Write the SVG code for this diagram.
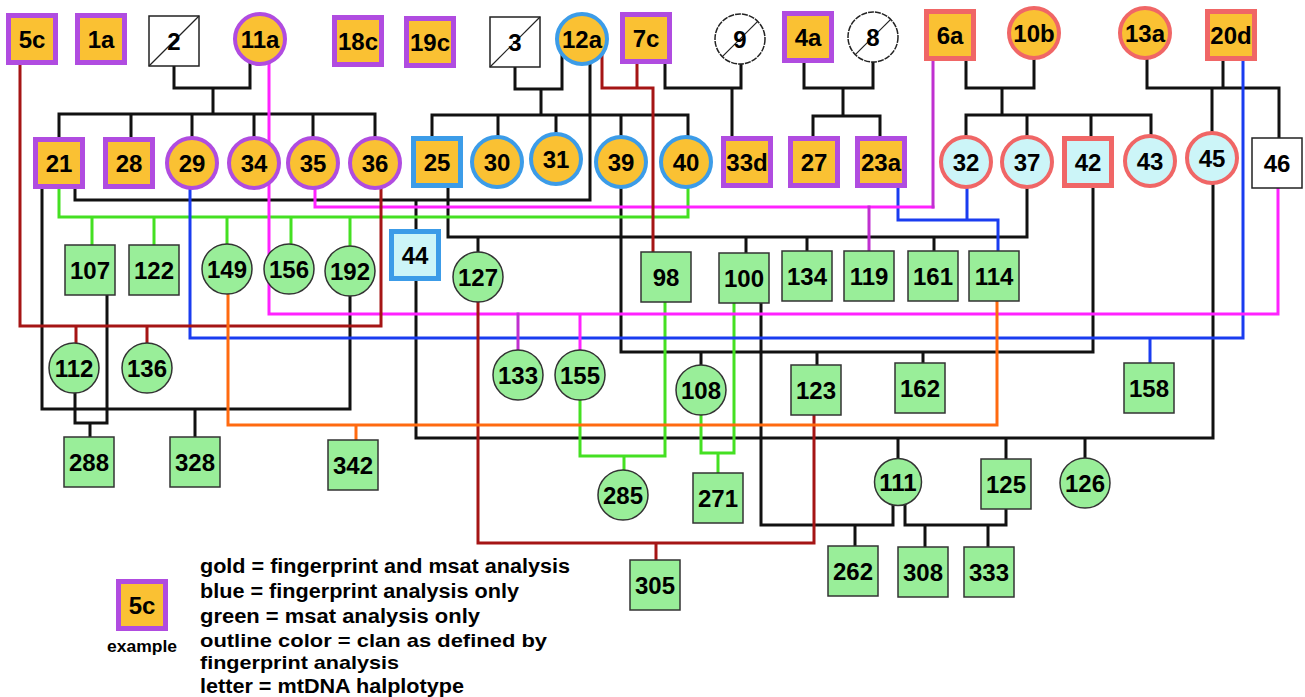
<svg xmlns="http://www.w3.org/2000/svg" width="1305" height="697" viewBox="0 0 1305 697">
<style>
.bg{fill:#ffffff}
.c{fill:none;stroke-width:3;stroke-linejoin:miter;stroke-linecap:square}
.k{stroke:#111111}
.g{stroke:#44e022}
.b{stroke:#1a3cf0}
.m{stroke:#ff22ff}
.mp{stroke:#c030d0}
.r{stroke:#a51515}
.o{stroke:#ff6a10}
.gold{fill:#fac133}
.cy{fill:#ccf5f8}
.wh{fill:#ffffff;stroke:#222222;stroke-width:1.5}
.gr{fill:#99ee99;stroke:#333333;stroke-width:1.5}
.pur{stroke:#b04ce0;stroke-width:5}
.blu{stroke:#3c9ce8;stroke-width:5}
.sal{stroke:#f06666;stroke-width:5}
.pc{stroke:#b04ce0;stroke-width:4}
.bc{stroke:#3c9ce8;stroke-width:4}
.sc{stroke:#f06666;stroke-width:4}
.dg{stroke:#222222;stroke-width:1.2;fill:none}
text{font-family:"Liberation Sans",Arial,sans-serif;font-weight:bold;fill:#000000}
.t{font-size:24px;text-anchor:middle}
.lg{font-size:20px}
.lg2{font-size:19px}
.ex{font-size:16px;text-anchor:middle}
</style>
<rect class="bg" x="0" y="0" width="1305" height="697"/>
<g id="connectors">
<path class="c k" d="M174 41 V88 H250 V39 M213 88 V114 M59 114 H375 M59 114 V140 M131 114 V140 M192 114 V140 M254 114 V140 M313 114 V140 M375 114 V140"/>
<path class="c k" d="M515 42 V89 H562 V39 M541 89 V115 M432 115 H688 M432 115 V140 M498 115 V140 M556 115 V140 M621 115 V140 M688 115 V140"/>
<path class="c k" d="M665 38 V88 H741 V39 M732 88 V140"/>
<path class="c k" d="M804 37 V88 H873 V37 M843 88 V116 M813 116 H880 M813 116 V140 M880 116 V140"/>
<path class="c k" d="M966 35 V88 H1034 V33 M1002 88 V115 M966 115 H1151 M966 115 V140 M1027 115 V140 M1091 115 V140 M1151 115 V140"/>
<path class="c k" d="M1147 33 V88 H1279 V163 M1223 35 V88 M1212 88 V158"/>
<path class="c k" d="M75 163 V200 H590 V39 M416 200 V255"/>
<path class="c k" d="M448 162 V237 H1027 V162 M478 237 V277 M746 237 V278 M807 237 V276 M934 237 V276"/>
<path class="c k" d="M621 162 V352 H1093 V162 M701 352 V390 M817 352 V390 M923 352 V388"/>
<path class="c k" d="M42 163 V409 H350 V271 M195 409 V462"/>
<path class="c k" d="M75 368 V423 H107 V270 M90 423 V462"/>
<path class="c k" d="M416 255 V438 H1213 V158 M898 438 V482 M1006 438 V484 M1085 438 V483"/>
<path class="c k" d="M761 278 V525 H893 V482 M855 525 V571"/>
<path class="c k" d="M905 482 V525 H1006 V484 M925 525 V572 M988 525 V572"/>
<path class="c g" d="M59 163 V217 H688 V162 M92 217 V270 M154 217 V270 M227 217 V269 M291 217 V269 M350 217 V271"/>
<path class="c g" d="M580 375 V456 H665 V277 M624 456 V495"/>
<path class="c g" d="M701 390 V453 H734 V278 M718 453 V498"/>
<path class="c b" d="M190 163 V338 H1243 V35 M1150 338 V388"/>
<path class="c b" d="M898 162 V220 H998 V276 M967 162 V220"/>
<path class="c m" d="M269 39 V314 H1278 V163 M580 314 V375"/>
<path class="c mp" d="M518 314 V375"/>
<path class="c m" d="M315 163 V207 H933"/>
<path class="c mp" d="M933 207 V35 M869 207 V276"/>
<path class="c r" d="M20 39 V326 H381 V163 M76 326 V368 M147 326 V368"/>
<path class="c r" d="M602 39 V88 H653 V277 M637 38 V88"/>
<path class="c r" d="M478 277 V543 H814 V390 M656 543 V585"/>
<path class="c o" d="M228 269 V425 H997 V276 M356 425 V465"/>
</g>
<g id="n5c"><rect class="gold pur" x="8.5" y="15.5" width="47" height="47"/><text class="t" x="32" y="47.5">5c</text></g>
<g id="n1a"><rect class="gold pur" x="77.5" y="15.5" width="47" height="47"/><text class="t" x="101" y="47.5">1a</text></g>
<g id="n2"><rect class="wh" x="149" y="16" width="50" height="50"/><path class="dg" d="M149 66 L199 16"/><text class="t" x="174" y="49.5">2</text></g>
<g id="n11a"><circle class="gold pc" cx="260" cy="39" r="25"/><text class="t" x="260" y="47.5">11a</text></g>
<g id="n18c"><rect class="gold pur" x="334.5" y="17.5" width="47" height="47"/><text class="t" x="358" y="49.5">18c</text></g>
<g id="n19c"><rect class="gold pur" x="406.5" y="18.5" width="47" height="47"/><text class="t" x="430" y="50.5">19c</text></g>
<g id="n3"><rect class="wh" x="490" y="17" width="50" height="50"/><path class="dg" d="M490 67 L540 17"/><text class="t" x="515" y="50.5">3</text></g>
<g id="n12a"><circle class="gold bc" cx="582" cy="39" r="25"/><text class="t" x="582" y="47.5">12a</text></g>
<g id="n7c"><rect class="gold pur" x="622.5" y="14.5" width="47" height="47"/><text class="t" x="646" y="46.5">7c</text></g>
<g id="n9"><circle class="wh" cx="740" cy="39" r="25" stroke-dasharray="6 1"/><path class="dg" d="M722.3 56.7 L757.7 21.3"/><text class="t" x="740" y="47.5">9</text></g>
<g id="n4a"><rect class="gold pur" x="784.5" y="13.5" width="47" height="47"/><text class="t" x="808" y="45.5">4a</text></g>
<g id="n8"><circle class="wh" cx="873" cy="37" r="25" stroke-dasharray="6 1"/><path class="dg" d="M855.3 54.7 L890.7 19.3"/><text class="t" x="873" y="45.5">8</text></g>
<g id="n6a"><rect class="gold sal" x="926.5" y="11.5" width="47" height="47"/><text class="t" x="950" y="43.5">6a</text></g>
<g id="n10b"><circle class="gold sc" cx="1034" cy="33" r="25"/><text class="t" x="1034" y="41.5">10b</text></g>
<g id="n13a"><circle class="gold sc" cx="1145" cy="33" r="25"/><text class="t" x="1145" y="41.5">13a</text></g>
<g id="n20d"><rect class="gold sal" x="1207.5" y="11.5" width="47" height="47"/><text class="t" x="1231" y="43.5">20d</text></g>

<g id="n21"><rect class="gold pur" x="35.5" y="139.5" width="47" height="47"/><text class="t" x="59" y="171.5">21</text></g>
<g id="n28"><rect class="gold pur" x="105.5" y="139.5" width="47" height="47"/><text class="t" x="129" y="171.5">28</text></g>
<g id="n29"><circle class="gold pc" cx="192" cy="163" r="25"/><text class="t" x="192" y="171.5">29</text></g>
<g id="n34"><circle class="gold pc" cx="254" cy="163" r="25"/><text class="t" x="254" y="171.5">34</text></g>
<g id="n35"><circle class="gold pc" cx="313" cy="163" r="25"/><text class="t" x="313" y="171.5">35</text></g>
<g id="n36"><circle class="gold pc" cx="375" cy="163" r="25"/><text class="t" x="375" y="171.5">36</text></g>
<g id="n25"><rect class="gold blu" x="413.5" y="138.5" width="47" height="47"/><text class="t" x="437" y="170.5">25</text></g>
<g id="n30"><circle class="gold bc" cx="497" cy="162" r="25"/><text class="t" x="497" y="170.5">30</text></g>
<g id="n31"><circle class="gold bc" cx="556" cy="159" r="25"/><text class="t" x="556" y="167.5">31</text></g>
<g id="n39"><circle class="gold bc" cx="621" cy="162" r="25"/><text class="t" x="621" y="170.5">39</text></g>
<g id="n40"><circle class="gold bc" cx="686" cy="162" r="25"/><text class="t" x="686" y="170.5">40</text></g>
<g id="n33d"><rect class="gold pur" x="723.5" y="138.5" width="47" height="47"/><text class="t" x="747" y="170.5">33d</text></g>
<g id="n27"><rect class="gold pur" x="790.5" y="138.5" width="47" height="47"/><text class="t" x="814" y="170.5">27</text></g>
<g id="n23a"><rect class="gold pur" x="857.5" y="138.5" width="47" height="47"/><text class="t" x="881" y="170.5">23a</text></g>
<g id="n32"><circle class="cy sc" cx="966" cy="162" r="25"/><text class="t" x="966" y="170.5">32</text></g>
<g id="n37"><circle class="cy sc" cx="1027" cy="162" r="25"/><text class="t" x="1027" y="170.5">37</text></g>
<g id="n42"><rect class="cy sal" x="1064.5" y="138.5" width="47" height="47"/><text class="t" x="1088" y="170.5">42</text></g>
<g id="n43"><circle class="cy sc" cx="1150" cy="161" r="25"/><text class="t" x="1150" y="169.5">43</text></g>
<g id="n45"><circle class="cy sc" cx="1212" cy="158" r="25"/><text class="t" x="1212" y="166.5">45</text></g>
<g id="n46"><rect class="wh" x="1252" y="138" width="50" height="50"/><text class="t" x="1277" y="171.5">46</text></g>

<g id="n107"><rect class="gr" x="65" y="245" width="50" height="50"/><text class="t" x="90" y="278.5">107</text></g>
<g id="n122"><rect class="gr" x="129" y="245" width="50" height="50"/><text class="t" x="154" y="278.5">122</text></g>
<g id="n149"><circle class="gr" cx="227" cy="269" r="25"/><text class="t" x="227" y="277.5">149</text></g>
<g id="n156"><circle class="gr" cx="289" cy="269" r="25"/><text class="t" x="289" y="277.5">156</text></g>
<g id="n192"><circle class="gr" cx="350" cy="271" r="25"/><text class="t" x="350" y="279.5">192</text></g>
<g id="n44"><rect class="cy blu" x="391.5" y="231.5" width="47" height="47"/><text class="t" x="415" y="263.5">44</text></g>
<g id="n127"><circle class="gr" cx="478" cy="277" r="25"/><text class="t" x="478" y="285.5">127</text></g>
<g id="n98"><rect class="gr" x="641" y="252" width="50" height="50"/><text class="t" x="666" y="285.5">98</text></g>
<g id="n100"><rect class="gr" x="719" y="253" width="50" height="50"/><text class="t" x="744" y="286.5">100</text></g>
<g id="n134"><rect class="gr" x="782" y="251" width="50" height="50"/><text class="t" x="807" y="284.5">134</text></g>
<g id="n119"><rect class="gr" x="844" y="251" width="50" height="50"/><text class="t" x="869" y="284.5">119</text></g>
<g id="n161"><rect class="gr" x="908" y="251" width="50" height="50"/><text class="t" x="933" y="284.5">161</text></g>
<g id="n114"><rect class="gr" x="969" y="251" width="50" height="50"/><text class="t" x="994" y="284.5">114</text></g>

<g id="n112"><circle class="gr" cx="74" cy="368" r="25"/><text class="t" x="74" y="376.5">112</text></g>
<g id="n136"><circle class="gr" cx="147" cy="368" r="25"/><text class="t" x="147" y="376.5">136</text></g>
<g id="n133"><circle class="gr" cx="518" cy="375" r="25"/><text class="t" x="518" y="383.5">133</text></g>
<g id="n155"><circle class="gr" cx="580" cy="375" r="25"/><text class="t" x="580" y="383.5">155</text></g>
<g id="n108"><circle class="gr" cx="701" cy="390" r="25"/><text class="t" x="701" y="398.5">108</text></g>
<g id="n123"><rect class="gr" x="791" y="365" width="50" height="50"/><text class="t" x="816" y="398.5">123</text></g>
<g id="n162"><rect class="gr" x="895" y="363" width="50" height="50"/><text class="t" x="920" y="396.5">162</text></g>
<g id="n158"><rect class="gr" x="1124" y="363" width="50" height="50"/><text class="t" x="1149" y="396.5">158</text></g>

<g id="n288"><rect class="gr" x="64" y="437" width="50" height="50"/><text class="t" x="89" y="470.5">288</text></g>
<g id="n328"><rect class="gr" x="170" y="437" width="50" height="50"/><text class="t" x="195" y="470.5">328</text></g>
<g id="n342"><rect class="gr" x="328" y="440" width="50" height="50"/><text class="t" x="353" y="473.5">342</text></g>
<g id="n285"><circle class="gr" cx="623" cy="495" r="25"/><text class="t" x="623" y="503.5">285</text></g>
<g id="n271"><rect class="gr" x="693" y="473" width="50" height="50"/><text class="t" x="718" y="506.5">271</text></g>
<g id="n111"><circle class="gr" cx="898" cy="482" r="23.5"/><text class="t" x="898" y="490.5">111</text></g>
<g id="n125"><rect class="gr" x="981" y="459" width="50" height="50"/><text class="t" x="1006" y="492.5">125</text></g>
<g id="n126"><circle class="gr" cx="1085" cy="483" r="25"/><text class="t" x="1085" y="491.5">126</text></g>
<g id="n305"><rect class="gr" x="630" y="560" width="50" height="50"/><text class="t" x="655" y="593.5">305</text></g>
<g id="n262"><rect class="gr" x="828" y="546" width="50" height="50"/><text class="t" x="853" y="579.5">262</text></g>
<g id="n308"><rect class="gr" x="898" y="547" width="50" height="50"/><text class="t" x="923" y="580.5">308</text></g>
<g id="n333"><rect class="gr" x="964" y="547" width="50" height="50"/><text class="t" x="989" y="580.5">333</text></g>

<g id="legend">
<rect class="gold pur" x="118.5" y="581.5" width="47" height="47"/><text class="t" x="142" y="613.5">5c</text>
<text class="ex" x="142" y="652" textLength="70" lengthAdjust="spacingAndGlyphs">example</text>
<text class="lg" x="200" y="573" textLength="370" lengthAdjust="spacingAndGlyphs">gold = fingerprint and msat analysis</text>
<text class="lg" x="200" y="598" textLength="319" lengthAdjust="spacingAndGlyphs">blue = fingerprint analysis only</text>
<text class="lg" x="200" y="623" textLength="280" lengthAdjust="spacingAndGlyphs">green = msat analysis only</text>
<text class="lg2" x="200" y="647" textLength="347" lengthAdjust="spacingAndGlyphs">outline color = clan as defined by</text>
<text class="lg2" x="200" y="669" textLength="199" lengthAdjust="spacingAndGlyphs">fingerprint analysis</text>
<text class="lg" x="200" y="693" textLength="264" lengthAdjust="spacingAndGlyphs">letter = mtDNA halplotype</text>
</g>
</svg>
